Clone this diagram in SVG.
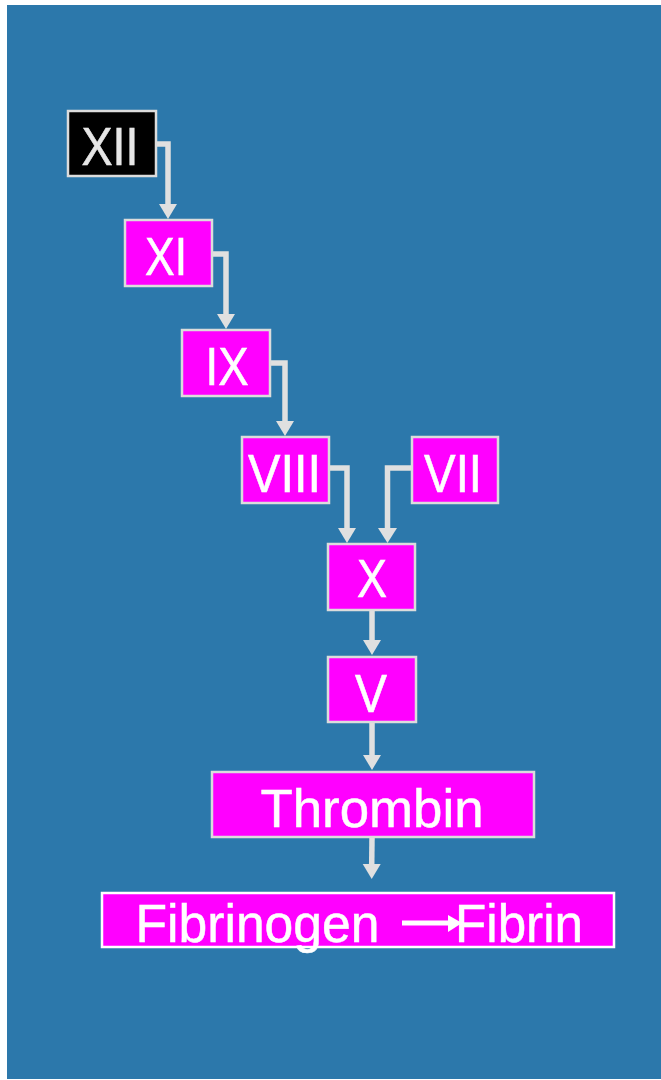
<svg xmlns="http://www.w3.org/2000/svg" width="661" height="1080" viewBox="0 0 661 1080">
<style>
.box{fill:#ff00ff;stroke:#dcdcdc;stroke-width:2.5}
.dark{fill:#000000;stroke:#dcdcdc;stroke-width:2.5}
.lbl{font-family:"Liberation Sans",Arial,sans-serif;font-size:54px;fill:#ffffff;text-anchor:middle;stroke:#ffffff;stroke-width:0.6}
.big{font-family:"Liberation Sans",Arial,sans-serif;font-size:53px;fill:#ffffff;stroke:#ffffff;stroke-width:0.5}
.conn{fill:none;stroke:#e0e0e0;stroke-width:5.5;stroke-linejoin:miter}
.head{fill:#e0e0e0}
</style>
<rect x="0" y="0" width="661" height="1080" fill="#ffffff"/>
<rect x="7" y="5" width="654" height="1074" fill="#2c78ab"/>
<g id="connectors">
<path class="conn" d="M156,144 H168 V205"/>
<polygon class="head" points="159,204 177,204 168,219"/>
<path class="conn" d="M212,254 H226 V315"/>
<polygon class="head" points="217,314 235,314 226,329"/>
<path class="conn" d="M270,363 H285 V422"/>
<polygon class="head" points="276,421 294,421 285,436"/>
<path class="conn" d="M330,468 H347 V529"/>
<polygon class="head" points="338,528 356,528 347,543"/>
<path class="conn" d="M411,468 H387.5 V529"/>
<polygon class="head" points="378,528 397,528 387.5,543"/>
<path class="conn" d="M372,611 V641"/>
<polygon class="head" points="363,640 381,640 372,655"/>
<path class="conn" d="M372,723 V756"/>
<polygon class="head" points="363,755 381,755 372,770"/>
<path class="conn" d="M372,838 L371.7,865"/>
<polygon class="head" points="362.7,864 380.7,864 371.7,879"/>
</g>
<g id="node-XII">
<rect class="dark" x="68" y="111" width="88" height="65"/>
<text class="lbl" x="110" y="165" style="fill:#e6e6e6;stroke:#e6e6e6" textLength="57" lengthAdjust="spacingAndGlyphs">XII</text>
</g>
<g id="node-XI">
<rect class="box" x="125" y="220" width="87" height="66"/>
<text class="lbl" x="166" y="275" textLength="42" lengthAdjust="spacingAndGlyphs">XI</text>
</g>
<g id="node-IX">
<rect class="box" x="182" y="330" width="88" height="66"/>
<text class="lbl" x="227" y="385" textLength="43" lengthAdjust="spacingAndGlyphs">IX</text>
</g>
<g id="node-VIII">
<rect class="box" x="242" y="437" width="87" height="66"/>
<text class="lbl" x="284.5" y="492" textLength="73" lengthAdjust="spacingAndGlyphs">VIII</text>
</g>
<g id="node-VII">
<rect class="box" x="412" y="437" width="86" height="66"/>
<text class="lbl" x="453" y="492" textLength="58" lengthAdjust="spacingAndGlyphs">VII</text>
</g>
<g id="node-X">
<rect class="box" x="328" y="544" width="87" height="66"/>
<text class="lbl" x="372" y="597" textLength="30" lengthAdjust="spacingAndGlyphs">X</text>
</g>
<g id="node-V">
<rect class="box" x="328" y="657" width="88" height="65"/>
<text class="lbl" x="371" y="712" textLength="32" lengthAdjust="spacingAndGlyphs">V</text>
</g>
<g id="node-Thrombin">
<rect class="box" x="212" y="772" width="322" height="65"/>
<text class="big" x="372" y="827" text-anchor="middle" textLength="223" lengthAdjust="spacingAndGlyphs">Thrombin</text>
</g>
<g id="node-Fibrinogen">
<rect x="102" y="893" width="512" height="54" fill="#ff00ff" stroke="#ffffff" stroke-width="2.5"/>
<text class="big" x="135.5" y="942" textLength="244" lengthAdjust="spacingAndGlyphs">Fibrinogen</text>
<line x1="402" y1="923" x2="452" y2="923" stroke="#ffffff" stroke-width="5"/>
<path d="M448,915 L462,923 L448,932 Z" fill="#ffffff"/>
<text class="big" x="455" y="942" textLength="128" lengthAdjust="spacingAndGlyphs">Fibrin</text>
</g>
</svg>
